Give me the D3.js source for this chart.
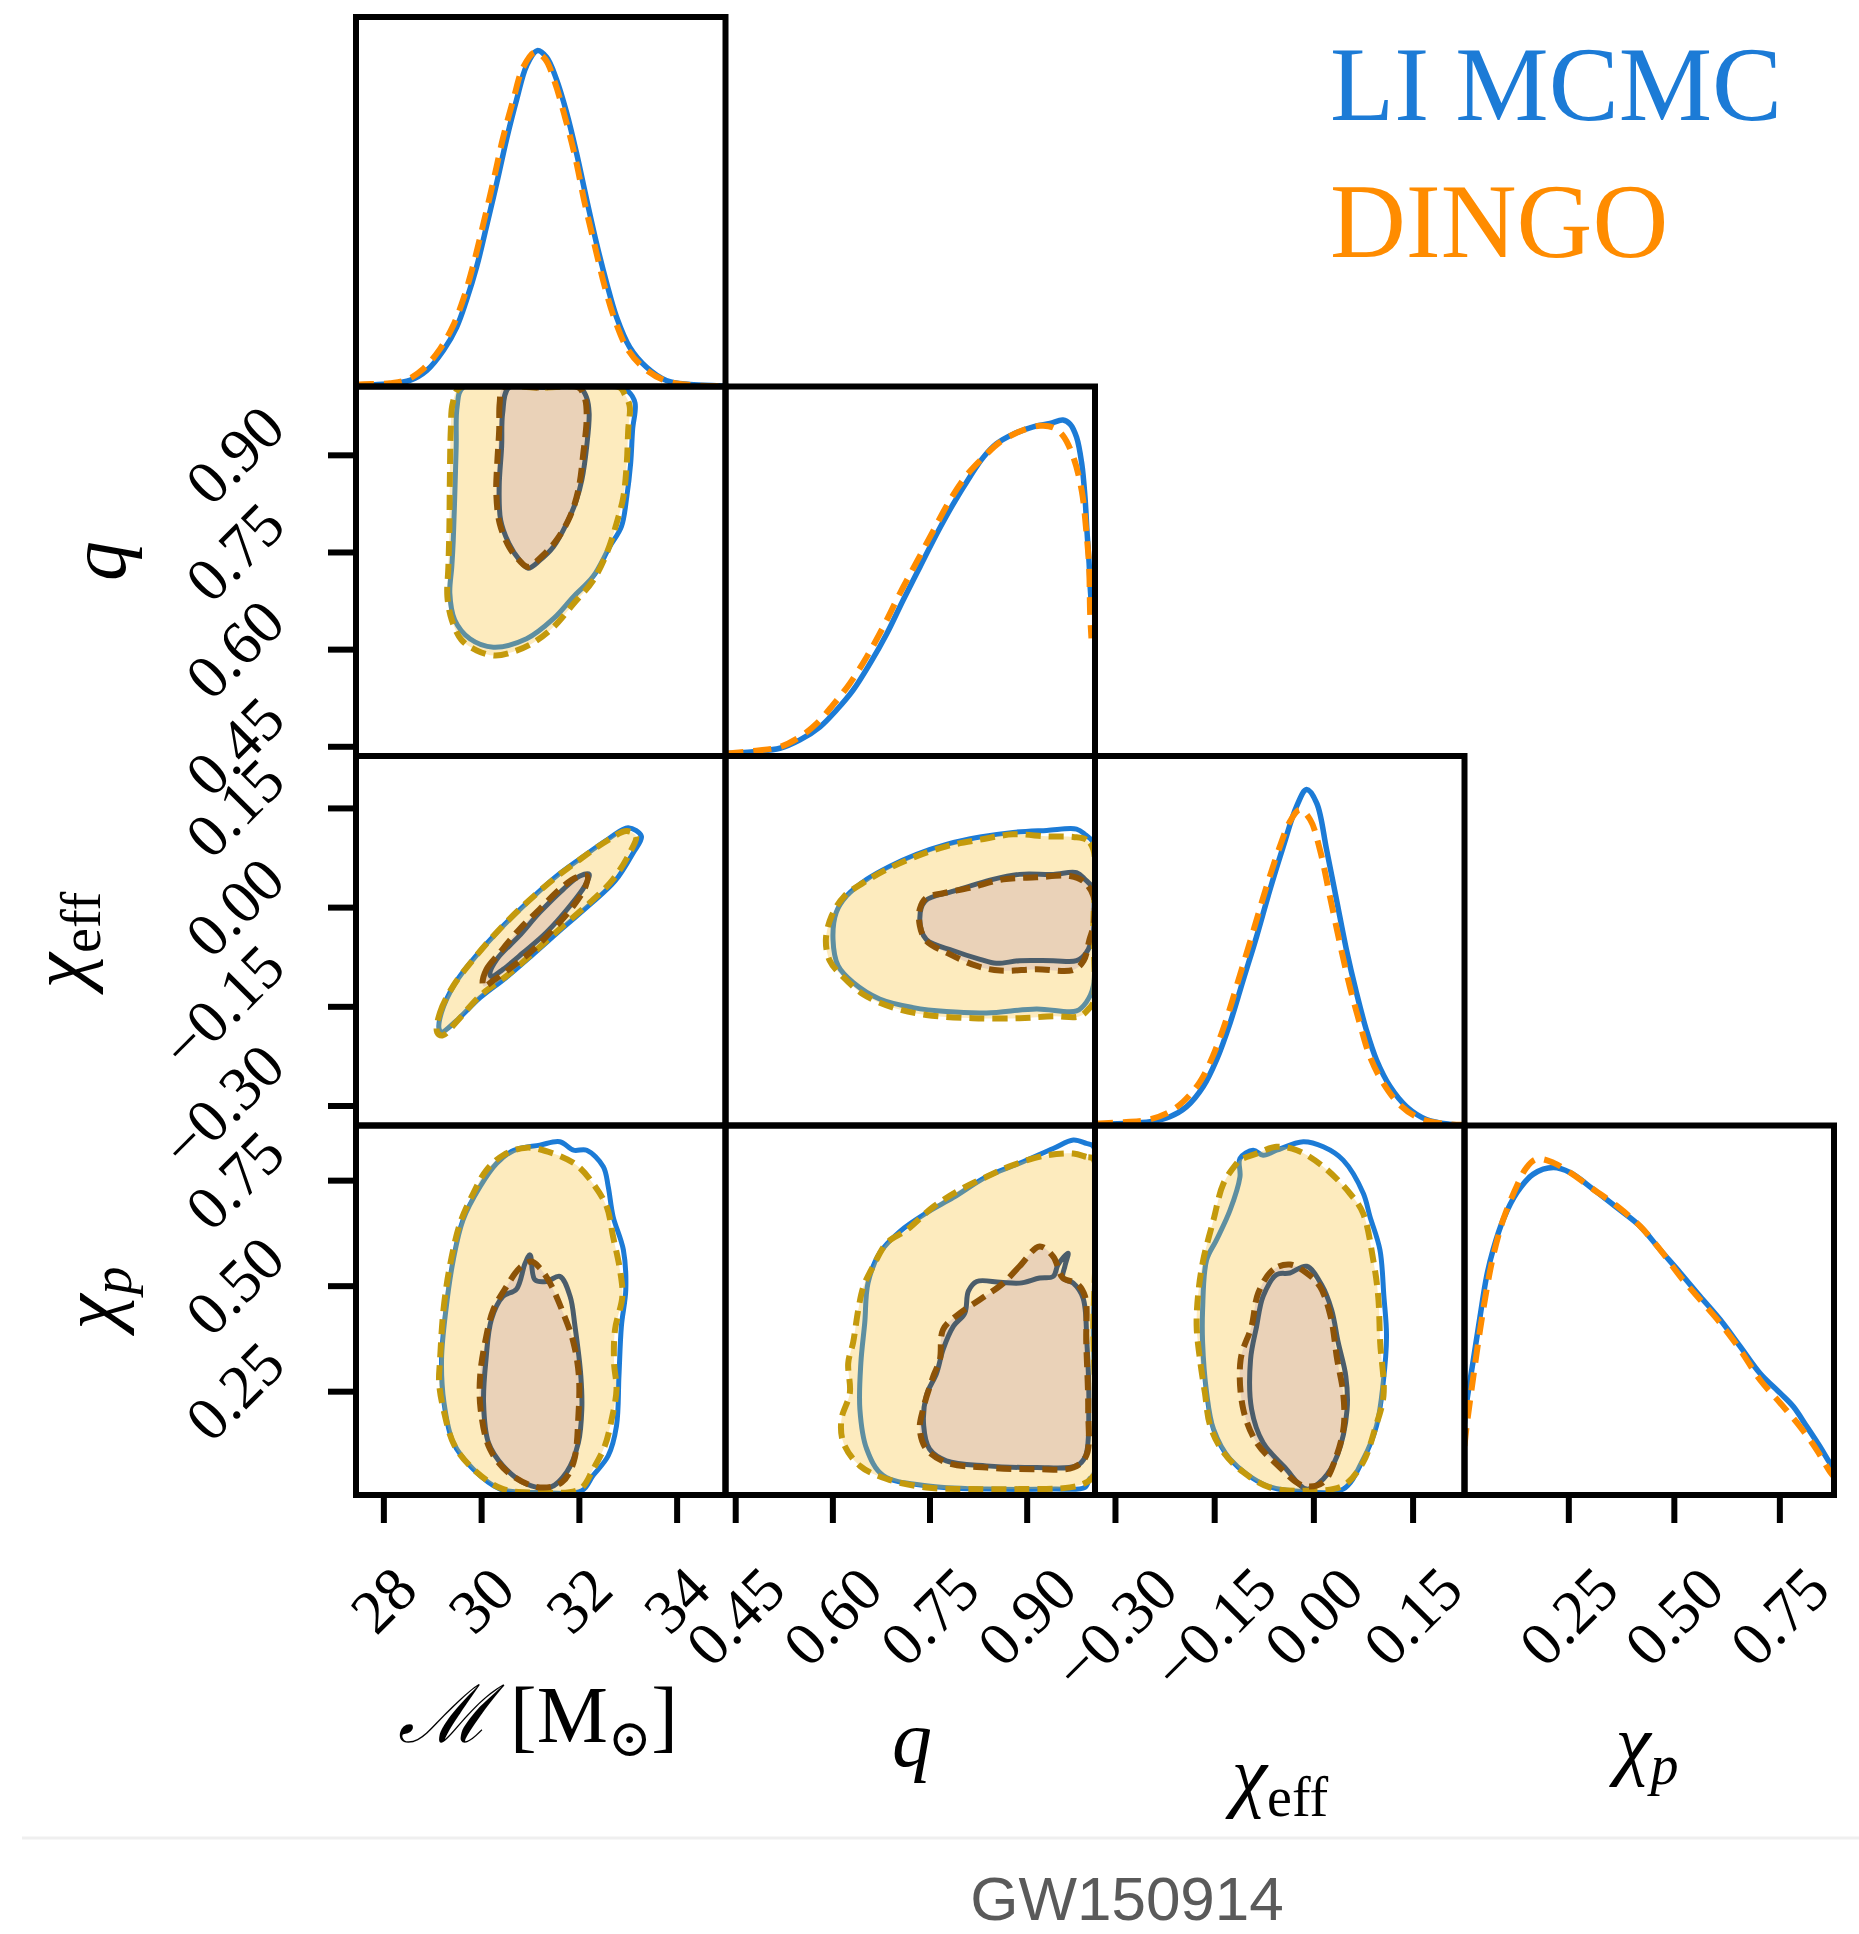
<!DOCTYPE html>
<html>
<head>
<meta charset="utf-8">
<script src="https://cdn.jsdelivr.net/npm/d3@7"></script>
<style>
  html, body { margin: 0; padding: 0; background: #ffffff; }
  svg { display: block; }
</style>
</head>
<body>
<svg id="chart" width="1859" height="1934"></svg>
<script>
// ---------------------------------------------------------------
// GW150914 posterior corner plot: LI MCMC vs DINGO
// Parameters: chirp mass, mass ratio q, chi_eff, chi_p
// ---------------------------------------------------------------

// Axis ranges
const mcRange = [27.44, 35.0];
const qRange = [0.435, 1.0055];
const chiEffRange = [-0.3302, 0.2285];
const chiPRange = [0.004, 0.8795];

// Tick values
const mcTicks = [28, 30, 32, 34];
const qTicks = [0.45, 0.60, 0.75, 0.90];
const chiEffTicks = [-0.30, -0.15, 0.00, 0.15];
const chiPTicks = [0.25, 0.50, 0.75];

// Series names
const seriesNames = ["LI MCMC", "DINGO"];

// ---- 1D marginal densities (normalised, [value, density]) ----
const mcDensityMcmc = [[27.44,0.001],[27.52,0.003],[28.14,0.008],[28.54,0.018],[28.89,0.048],[29.23,0.108],[29.50,0.177],[29.70,0.257],[29.91,0.357],[30.11,0.477],[30.32,0.606],[30.52,0.736],[30.73,0.856],[30.93,0.955],[31.15,1.0],[31.34,0.980],[31.54,0.915],[31.75,0.815],[31.95,0.696],[32.16,0.556],[32.36,0.427],[32.57,0.307],[32.77,0.207],[33.04,0.117],[33.38,0.058],[33.79,0.018],[34.27,0.006],[34.88,0.002],[35.0,0.001]];
const mcDensityDingo = [[27.44,0.004],[27.52,0.006],[28.14,0.010],[28.48,0.020],[28.82,0.053],[29.16,0.112],[29.43,0.182],[29.64,0.262],[29.84,0.362],[30.04,0.481],[30.25,0.611],[30.45,0.741],[30.66,0.855],[30.86,0.950],[31.10,0.995],[31.31,0.975],[31.51,0.905],[31.71,0.805],[31.92,0.686],[32.12,0.546],[32.33,0.416],[32.53,0.297],[32.74,0.197],[33.01,0.108],[33.35,0.053],[33.76,0.018],[34.24,0.005],[34.88,0.001],[35.0,0.001]];

const qDensityMcmc = [[0.435,0.006],[0.442,0.008],[0.478,0.013],[0.519,0.023],[0.550,0.048],[0.581,0.087],[0.6065,0.137],[0.632,0.196],[0.658,0.275],[0.684,0.364],[0.709,0.463],[0.735,0.562],[0.761,0.661],[0.7865,0.750],[0.812,0.830],[0.833,0.889],[0.853,0.929],[0.879,0.958],[0.910,0.980],[0.936,0.990],[0.956,1.0],[0.967,0.988],[0.977,0.949],[0.985,0.871],[0.990,0.772],[0.993,0.673],[0.9964,0.574],[0.998,0.505],[1.0,0.45]];
const qDensityDingo = [[0.435,0.006],[0.442,0.008],[0.478,0.015],[0.519,0.027],[0.550,0.057],[0.576,0.097],[0.601,0.152],[0.627,0.216],[0.653,0.295],[0.6785,0.384],[0.704,0.483],[0.730,0.577],[0.756,0.671],[0.781,0.760],[0.807,0.835],[0.833,0.889],[0.8585,0.934],[0.889,0.966],[0.920,0.983],[0.941,0.978],[0.956,0.954],[0.972,0.890],[0.985,0.790],[0.992,0.671],[0.9964,0.562],[0.998,0.424],[1.0,0.35]];

const chiEffDensityMcmc = [[-0.3302,0.003],[-0.3226,0.004],[-0.287,0.006],[-0.247,0.011],[-0.217,0.026],[-0.1916,0.056],[-0.1665,0.116],[-0.1463,0.196],[-0.126,0.305],[-0.106,0.434],[-0.0858,0.563],[-0.0657,0.702],[-0.0455,0.831],[-0.0254,0.950],[-0.0102,1.0],[0.005,0.960],[0.020,0.821],[0.035,0.672],[0.050,0.523],[0.0653,0.394],[0.080,0.285],[0.0955,0.195],[0.116,0.116],[0.141,0.056],[0.171,0.018],[0.206,0.004],[0.2285,0.002]];
const chiEffDensityDingo = [[-0.3302,0.005],[-0.3226,0.006],[-0.287,0.010],[-0.252,0.016],[-0.222,0.036],[-0.1967,0.071],[-0.1715,0.130],[-0.1513,0.210],[-0.131,0.319],[-0.111,0.448],[-0.091,0.578],[-0.0707,0.712],[-0.0506,0.831],[-0.0355,0.905],[-0.0204,0.940],[-0.005,0.911],[0.0099,0.821],[0.025,0.682],[0.040,0.543],[0.055,0.414],[0.070,0.305],[0.0855,0.205],[0.1056,0.126],[0.131,0.061],[0.161,0.021],[0.201,0.004],[0.2285,0.002]];

const chiPDensityMcmc = [[0.004,0.22],[0.009,0.281],[0.025,0.413],[0.041,0.546],[0.0565,0.668],[0.072,0.750],[0.096,0.842],[0.128,0.923],[0.167,0.980],[0.2145,1.0],[0.254,0.985],[0.309,0.934],[0.365,0.878],[0.420,0.821],[0.467,0.750],[0.515,0.679],[0.562,0.607],[0.6095,0.536],[0.657,0.454],[0.704,0.372],[0.752,0.311],[0.783,0.270],[0.815,0.209],[0.846,0.148],[0.870,0.097],[0.88,0.08]];
const chiPDensityDingo = [[0.004,0.15],[0.009,0.209],[0.025,0.362],[0.041,0.505],[0.0565,0.628],[0.072,0.730],[0.096,0.842],[0.128,0.944],[0.151,1.0],[0.175,1.026],[0.2145,1.015],[0.254,0.985],[0.309,0.934],[0.365,0.883],[0.420,0.821],[0.467,0.750],[0.515,0.668],[0.562,0.597],[0.6095,0.526],[0.657,0.444],[0.704,0.352],[0.752,0.281],[0.799,0.209],[0.8385,0.138],[0.870,0.071],[0.88,0.055]];

// ---- 2D credible contours ([x, y] in parameter units) ----
// q vs chirp mass
const qMcMcmcOuter = [[29.63,1.004],[29.51,0.975],[29.49,0.913],[29.46,0.835],[29.43,0.768],[29.40,0.727],[29.36,0.686],[29.46,0.645],[29.77,0.616],[30.25,0.603],[30.93,0.616],[31.48,0.647],[31.89,0.681],[32.29,0.712],[32.63,0.758],[32.87,0.789],[32.98,0.835],[33.06,0.887],[33.10,0.939],[33.15,0.980],[33.01,0.998],[32.84,1.004],[31.2,1.004]];
const qMcMcmcInner = [[30.57,1.004],[30.44,0.964],[30.42,0.913],[30.37,0.851],[30.40,0.799],[30.57,0.763],[30.79,0.737],[30.96,0.725],[31.20,0.737],[31.48,0.758],[31.75,0.794],[31.95,0.830],[32.06,0.861],[32.16,0.913],[32.21,0.964],[32.16,0.988],[32.02,1.004],[31.3,1.004]];
const qMcDingoOuter = [[29.57,1.004],[29.42,0.980],[29.38,0.939],[29.36,0.861],[29.35,0.784],[29.33,0.727],[29.31,0.681],[29.40,0.645],[29.60,0.614],[29.91,0.598],[30.28,0.590],[30.66,0.596],[31.07,0.610],[31.48,0.634],[31.89,0.670],[32.29,0.706],[32.57,0.748],[32.77,0.794],[32.91,0.835],[32.98,0.887],[33.01,0.939],[33.04,0.975],[32.94,0.993],[32.84,1.004],[31.2,1.004]];
const qMcDingoInner = [[30.45,1.004],[30.38,0.980],[30.37,0.939],[30.33,0.887],[30.31,0.841],[30.38,0.794],[30.57,0.758],[30.78,0.737],[30.96,0.727],[31.24,0.743],[31.54,0.768],[31.82,0.805],[31.99,0.846],[32.09,0.902],[32.16,0.959],[32.12,0.988],[31.99,1.004],[31.2,1.004]];

// chi_eff vs chirp mass
const ceMcMcmcOuter = [[29.14,-0.184],[29.19,-0.159],[29.46,-0.116],[29.87,-0.076],[30.35,-0.036],[30.90,0.004],[31.51,0.045],[32.06,0.075],[32.60,0.103],[33.01,0.120],[33.28,0.107],[33.11,0.082],[32.74,0.0395],[32.23,0.004],[31.68,-0.031],[31.07,-0.071],[30.52,-0.106],[29.98,-0.137],[29.49,-0.172],[29.19,-0.189]];
const ceMcMcmcInner = [[30.18,-0.101],[30.32,-0.079],[30.78,-0.0435],[31.20,-0.008],[31.68,0.027],[32.02,0.047],[32.21,0.0495],[32.12,0.032],[31.82,0.002],[31.34,-0.038],[30.86,-0.069],[30.45,-0.094],[30.21,-0.105]];
const ceMcDingoOuter = [[29.10,-0.189],[29.16,-0.159],[29.43,-0.119],[29.84,-0.079],[30.32,-0.038],[30.86,0.002],[31.48,0.042],[32.02,0.072],[32.57,0.100],[32.98,0.115],[33.17,0.107],[33.04,0.082],[32.70,0.042],[32.23,0.007],[31.68,-0.028],[31.07,-0.069],[30.52,-0.104],[29.98,-0.134],[29.49,-0.174],[29.21,-0.194]];
const ceMcDingoInner = [[30.03,-0.116],[30.11,-0.094],[30.38,-0.069],[30.79,-0.033],[31.20,-0.003],[31.61,0.027],[31.95,0.045],[32.17,0.047],[32.14,0.032],[31.89,0.002],[31.48,-0.033],[31.07,-0.064],[30.66,-0.089],[30.25,-0.111],[30.06,-0.120]];

// chi_eff vs q
const ceQMcmcOuter = [[1.003,0.097],[0.990,0.110],[0.977,0.118],[0.931,0.116],[0.879,0.113],[0.828,0.106],[0.776,0.095],[0.730,0.080],[0.689,0.062],[0.653,0.042],[0.622,0.017],[0.606,-0.008],[0.601,-0.049],[0.609,-0.089],[0.632,-0.114],[0.673,-0.139],[0.725,-0.152],[0.776,-0.158],[0.838,-0.160],[0.915,-0.154],[0.977,-0.157],[0.992,-0.144],[1.003,-0.119],[1.003,-0.01]];
const ceQMcmcInner = [[1.003,0.027],[0.990,0.042],[0.977,0.052],[0.941,0.0495],[0.889,0.0495],[0.848,0.042],[0.787,0.024],[0.743,0.009],[0.735,-0.018],[0.745,-0.049],[0.787,-0.066],[0.828,-0.079],[0.853,-0.085],[0.889,-0.081],[0.941,-0.081],[0.977,-0.081],[0.992,-0.069],[1.003,-0.038]];
const ceQDingoOuter = [[1.003,0.087],[0.992,0.102],[0.972,0.106],[0.931,0.107],[0.879,0.110],[0.828,0.102],[0.776,0.092],[0.725,0.075],[0.684,0.057],[0.648,0.037],[0.619,0.017],[0.599,-0.013],[0.590,-0.049],[0.596,-0.081],[0.617,-0.106],[0.648,-0.132],[0.694,-0.152],[0.745,-0.163],[0.817,-0.168],[0.889,-0.168],[0.941,-0.165],[0.982,-0.165],[0.9974,-0.152],[1.003,-0.144],[1.003,-0.03]];
const ceQDingoInner = [[1.003,0.017],[0.987,0.0395],[0.967,0.047],[0.915,0.045],[0.864,0.042],[0.812,0.029],[0.771,0.021],[0.745,0.014],[0.735,-0.003],[0.735,-0.028],[0.745,-0.051],[0.781,-0.071],[0.823,-0.089],[0.859,-0.096],[0.915,-0.094],[0.972,-0.095],[0.988,-0.081],[0.997,-0.049],[1.003,-0.028]];

// chi_p vs chirp mass
const cpMcMcmcOuter = [[29.19,0.325],[29.28,0.443],[29.43,0.561],[29.63,0.656],[29.98,0.735],[30.32,0.790],[30.66,0.820],[31.20,0.833],[31.61,0.841],[31.89,0.821],[32.16,0.821],[32.50,0.782],[32.60,0.735],[32.70,0.664],[32.91,0.585],[32.96,0.491],[32.87,0.404],[32.82,0.286],[32.77,0.168],[32.60,0.097],[32.29,0.050],[32.06,0.014],[31.20,0.010],[30.39,0.018],[29.84,0.065],[29.43,0.128],[29.24,0.223]];
const cpMcMcmcInner = [[31.00,0.573],[31.10,0.514],[31.34,0.510],[31.61,0.522],[31.82,0.475],[31.92,0.404],[32.04,0.286],[32.06,0.207],[31.99,0.128],[31.75,0.058],[31.41,0.022],[30.93,0.030],[30.45,0.073],[30.15,0.128],[30.05,0.223],[30.10,0.325],[30.21,0.420],[30.45,0.475],[30.72,0.491],[30.90,0.553]];
const cpMcDingoOuter = [[29.16,0.325],[29.23,0.443],[29.36,0.546],[29.57,0.648],[29.84,0.719],[30.11,0.774],[30.45,0.809],[30.93,0.827],[31.48,0.813],[31.95,0.786],[32.29,0.742],[32.57,0.687],[32.70,0.616],[32.84,0.538],[32.89,0.475],[32.74,0.396],[32.72,0.317],[32.77,0.254],[32.67,0.183],[32.53,0.120],[32.29,0.065],[32.02,0.018],[31.20,0.010],[30.45,0.018],[29.91,0.058],[29.46,0.120],[29.23,0.207],[29.14,0.270]];
const cpMcDingoInner = [[31.03,0.557],[30.79,0.542],[30.52,0.498],[30.25,0.443],[30.08,0.365],[29.98,0.286],[29.99,0.207],[30.18,0.113],[30.59,0.054],[31.20,0.022],[31.65,0.034],[31.89,0.081],[31.99,0.191],[32.00,0.286],[31.89,0.365],[31.68,0.435],[31.41,0.506],[31.20,0.542]];

// chi_p vs q
const cpQMcmcOuter = [[1.003,0.83],[0.992,0.837],[0.972,0.845],[0.941,0.825],[0.889,0.790],[0.838,0.758],[0.787,0.709],[0.745,0.672],[0.704,0.628],[0.673,0.577],[0.655,0.506],[0.650,0.412],[0.644,0.317],[0.6425,0.207],[0.653,0.113],[0.6785,0.050],[0.745,0.026],[0.838,0.018],[0.941,0.018],[0.990,0.022],[0.997,0.042],[1.003,0.05],[1.003,0.4]];
const cpQMcmcInner = [[0.964,0.577],[0.9485,0.550],[0.941,0.522],[0.920,0.518],[0.889,0.506],[0.859,0.508],[0.823,0.510],[0.810,0.487],[0.8045,0.435],[0.787,0.404],[0.771,0.349],[0.761,0.293],[0.745,0.239],[0.741,0.168],[0.750,0.113],[0.776,0.085],[0.838,0.073],[0.915,0.069],[0.977,0.073],[0.991,0.097],[0.996,0.207],[0.993,0.365],[0.987,0.471],[0.972,0.506],[0.956,0.518],[0.959,0.546]];
const cpQDingoOuter = [[1.003,0.80],[0.992,0.805],[0.972,0.813],[0.931,0.809],[0.879,0.786],[0.838,0.758],[0.797,0.727],[0.756,0.687],[0.715,0.632],[0.684,0.601],[0.663,0.546],[0.648,0.498],[0.640,0.443],[0.632,0.365],[0.6245,0.317],[0.627,0.246],[0.614,0.183],[0.617,0.128],[0.6425,0.073],[0.684,0.042],[0.745,0.022],[0.812,0.018],[0.889,0.018],[0.967,0.022],[0.992,0.034],[1.003,0.050],[1.003,0.4]];
const cpQDingoInner = [[0.920,0.593],[0.889,0.546],[0.864,0.506],[0.828,0.467],[0.797,0.435],[0.771,0.396],[0.766,0.325],[0.756,0.286],[0.740,0.207],[0.735,0.160],[0.745,0.113],[0.776,0.081],[0.838,0.069],[0.915,0.065],[0.972,0.069],[0.992,0.097],[0.995,0.207],[0.992,0.365],[0.990,0.475],[0.977,0.506],[0.956,0.518],[0.941,0.569]];

// chi_p vs chi_eff
const cpCeMcmcOuter = [[-0.111,0.8015],[-0.091,0.821],[-0.076,0.809],[-0.0556,0.821],[-0.0153,0.841],[0.015,0.829],[0.045,0.7975],[0.0754,0.719],[0.0855,0.664],[0.1006,0.585],[0.1066,0.475],[0.1106,0.380],[0.1056,0.270],[0.0955,0.168],[0.0754,0.089],[0.045,0.018],[-0.0153,0.012],[-0.0707,0.026],[-0.126,0.089],[-0.151,0.160],[-0.1614,0.246],[-0.1675,0.365],[-0.1675,0.443],[-0.1614,0.561],[-0.1463,0.609],[-0.126,0.679],[-0.111,0.758]];
const cpCeMcmcInner = [[-0.0102,0.546],[-0.0355,0.530],[-0.0556,0.526],[-0.076,0.475],[-0.0858,0.404],[-0.095,0.325],[-0.0934,0.207],[-0.076,0.128],[-0.043,0.069],[-0.0102,0.018],[0.015,0.042],[0.036,0.097],[0.051,0.207],[0.049,0.286],[0.0376,0.365],[0.0275,0.443],[0.0124,0.502]];
const cpCeDingoOuter = [[-0.116,0.790],[-0.136,0.742],[-0.151,0.656],[-0.1665,0.561],[-0.174,0.483],[-0.1765,0.404],[-0.1715,0.325],[-0.164,0.246],[-0.156,0.168],[-0.136,0.105],[-0.106,0.058],[-0.066,0.022],[-0.010,0.014],[0.045,0.026],[0.075,0.081],[0.093,0.160],[0.106,0.239],[0.101,0.365],[0.098,0.475],[0.0905,0.561],[0.075,0.672],[0.055,0.719],[0.015,0.782],[-0.025,0.821],[-0.056,0.829],[-0.086,0.813],[-0.111,0.798]];
const cpCeDingoInner = [[-0.0355,0.550],[-0.0607,0.538],[-0.0833,0.483],[-0.0934,0.404],[-0.110,0.325],[-0.106,0.207],[-0.0858,0.128],[-0.0556,0.077],[-0.0153,0.026],[0.015,0.034],[0.035,0.097],[0.046,0.168],[0.045,0.246],[0.036,0.325],[0.026,0.4275],[0.0099,0.498],[-0.0102,0.530]];

// ---------------------------------------------------------------
// Layout and styles
// ---------------------------------------------------------------
const gridX = 356, gridY = 17, cell = 369.5;
const tickLen = 28, tickGap = 40;
const frameWidth = 6;
const blue = "#1c7bd6", orange = "#ff8c00";
const serif = "'Liberation Serif', 'DejaVu Serif', serif";
const tickFont = 62;

const svg = d3.select("#chart");

const ranges = [mcRange, qRange, chiEffRange, chiPRange];
const tickVals = [mcTicks, qTicks, chiEffTicks, chiPTicks];
const fmts = [d3.format("d"), d3.format(".2f"), d3.format(".2f"), d3.format(".2f")];
const densities = [
  [mcDensityMcmc, mcDensityDingo],
  [qDensityMcmc, qDensityDingo],
  [chiEffDensityMcmc, chiEffDensityDingo],
  [chiPDensityMcmc, chiPDensityDingo]
];

const xs = ranges.map((r, i) => d3.scaleLinear().domain(r).range([gridX + i * cell, gridX + (i + 1) * cell]));
const ys = ranges.map((r, i) => d3.scaleLinear().domain(r).range([gridY + (i + 1) * cell, gridY + i * cell]));

// clip paths, one per panel
const defs = svg.append("defs");
for (let r = 0; r < 4; r++) {
  for (let c = 0; c <= r; c++) {
    defs.append("clipPath").attr("id", `clip-${r}-${c}`)
      .append("rect")
      .attr("x", gridX + c * cell).attr("y", gridY + r * cell)
      .attr("width", cell).attr("height", cell);
  }
}

// ---- 1D marginals on the diagonal ----
densities.forEach((pair, i) => {
  const maxD = d3.max(pair.flat(), d => d[1]);
  const yD = d3.scaleLinear().domain([0, 1.1 * maxD]).range([gridY + (i + 1) * cell, gridY + i * cell]);
  const line = d3.line().x(d => xs[i](d[0])).y(d => yD(d[1])).curve(d3.curveCatmullRom.alpha(0.5));
  const g = svg.append("g").attr("clip-path", `url(#clip-${i}-${i})`);
  g.append("path").attr("d", line(pair[0]))
    .attr("fill", "none").attr("stroke", blue).attr("stroke-width", 5.5)
    .attr("stroke-linejoin", "round").attr("stroke-linecap", "round");
  g.append("path").attr("d", line(pair[1]))
    .attr("fill", "none").attr("stroke", orange).attr("stroke-width", 6)
    .attr("stroke-dasharray", "18,10");
});

// ---- 2D contour panels ----
const panels = [
  { r: 1, c: 0, mcmcOuter: qMcMcmcOuter, mcmcInner: qMcMcmcInner, dingoOuter: qMcDingoOuter, dingoInner: qMcDingoInner },
  { r: 2, c: 0, mcmcOuter: ceMcMcmcOuter, mcmcInner: ceMcMcmcInner, dingoOuter: ceMcDingoOuter, dingoInner: ceMcDingoInner },
  { r: 2, c: 1, mcmcOuter: ceQMcmcOuter, mcmcInner: ceQMcmcInner, dingoOuter: ceQDingoOuter, dingoInner: ceQDingoInner },
  { r: 3, c: 0, mcmcOuter: cpMcMcmcOuter, mcmcInner: cpMcMcmcInner, dingoOuter: cpMcDingoOuter, dingoInner: cpMcDingoInner },
  { r: 3, c: 1, mcmcOuter: cpQMcmcOuter, mcmcInner: cpQMcmcInner, dingoOuter: cpQDingoOuter, dingoInner: cpQDingoInner },
  { r: 3, c: 2, mcmcOuter: cpCeMcmcOuter, mcmcInner: cpCeMcmcInner, dingoOuter: cpCeDingoOuter, dingoInner: cpCeDingoInner }
];

panels.forEach(p => {
  const line = d3.line().x(d => xs[p.c](d[0])).y(d => ys[p.r](d[1]))
    .curve(d3.curveCatmullRomClosed.alpha(0.5));
  const g = svg.append("g").attr("clip-path", `url(#clip-${p.r}-${p.c})`);
  g.append("path").attr("d", line(p.mcmcOuter))
    .attr("fill", "none").attr("stroke", blue).attr("stroke-width", 5).attr("stroke-linejoin", "round");
  g.append("path").attr("d", line(p.dingoOuter)).attr("fill", "rgba(247,190,40,0.30)");
  g.append("path").attr("d", line(p.dingoInner)).attr("fill", "rgba(215,185,177,0.5)");
  g.append("path").attr("d", line(p.mcmcInner))
    .attr("fill", "none").attr("stroke", "#4b5d6b").attr("stroke-width", 5).attr("stroke-linejoin", "round");
  g.append("path").attr("d", line(p.dingoOuter))
    .attr("fill", "none").attr("stroke", "#c49a0c").attr("stroke-width", 6).attr("stroke-dasharray", "15,8");
  g.append("path").attr("d", line(p.dingoInner))
    .attr("fill", "none").attr("stroke", "#8d5307").attr("stroke-width", 6).attr("stroke-dasharray", "15,8");
});

// ---- panel frames ----
for (let r = 0; r < 4; r++) {
  for (let c = 0; c <= r; c++) {
    svg.append("rect")
      .attr("x", gridX + c * cell).attr("y", gridY + r * cell)
      .attr("width", cell).attr("height", cell)
      .attr("fill", "none").attr("stroke", "#000").attr("stroke-width", frameWidth);
  }
}

// ---- tick marks ----
function styleAxis(g) {
  g.select(".domain").remove();
  g.selectAll(".tick line").attr("stroke", "#000").attr("stroke-width", 6);
}
for (let r = 1; r < 4; r++) {
  svg.append("g").attr("transform", `translate(${gridX},0)`)
    .call(d3.axisLeft(ys[r]).tickValues(tickVals[r]).tickSize(tickLen).tickFormat(""))
    .call(styleAxis);
}
const bottomY = gridY + 4 * cell;
for (let c = 0; c < 4; c++) {
  svg.append("g").attr("transform", `translate(0,${bottomY})`)
    .call(d3.axisBottom(xs[c]).tickValues(tickVals[c]).tickSize(tickLen).tickFormat(""))
    .call(styleAxis);
}

// ---- rotated tick labels (45 degrees, box aligned to the tick) ----
function tickLabel(x, y, txt, side) {
  const t = svg.append("text")
    .attr("font-family", serif).attr("font-size", tickFont)
    .attr("text-anchor", "middle").attr("dy", 0.34 * tickFont)
    .attr("fill", "#000").text(txt);
  const L = t.node().getComputedTextLength();
  const s = (L + 0.68 * tickFont) / Math.SQRT2;
  let cx, cy;
  if (side === "left") { cx = x - s / 2; cy = y; }
  else { cx = x; cy = y + s / 2; }
  t.attr("transform", `translate(${cx},${cy}) rotate(-45)`);
}
for (let r = 1; r < 4; r++) {
  tickVals[r].forEach(v => tickLabel(gridX - tickLen - tickGap, ys[r](v), fmts[r](v), "left"));
}
for (let c = 0; c < 4; c++) {
  tickVals[c].forEach(v => tickLabel(xs[c](v), bottomY + tickLen + tickGap, fmts[c](v), "bottom"));
}

// ---- axis titles ----
const labelFont = 80;
function title(x, y, rotate, build) {
  const t = svg.append("text")
    .attr("font-family", serif).attr("font-size", labelFont)
    .attr("text-anchor", "middle").attr("fill", "#000")
    .attr("transform", `translate(${x},${y})` + (rotate ? " rotate(-90)" : ""));
  build(t);
}
// bottom titles
title(538, 1742, false, t => {
  t.append("tspan").attr("font-style", "italic").text("ℳ");
  t.append("tspan").text(" [M");
  t.append("tspan").attr("font-size", 52).attr("dy", 14).text("⊙");
  t.append("tspan").attr("dy", -14).text("]");
});
title(912, 1766, false, t => {
  t.append("tspan").attr("font-style", "italic").text("q");
});
title(1280, 1802, false, t => {
  t.append("tspan").attr("font-style", "italic").text("χ");
  t.append("tspan").attr("font-size", 56).attr("dy", 14).text("eff");
});
title(1647, 1770, false, t => {
  t.append("tspan").attr("font-style", "italic").text("χ");
  t.append("tspan").attr("font-style", "italic").attr("font-size", 56).attr("dy", 14).text("p");
});
// left titles
title(125, 561, true, t => {
  t.append("tspan").attr("font-style", "italic").text("q");
});
title(86, 940, true, t => {
  t.append("tspan").attr("font-style", "italic").text("χ");
  t.append("tspan").attr("font-size", 56).attr("dy", 14).text("eff");
});
title(117, 1298, true, t => {
  t.append("tspan").attr("font-style", "italic").text("χ");
  t.append("tspan").attr("font-style", "italic").attr("font-size", 56).attr("dy", 14).text("p");
});

// ---- legend ----
const legendColors = [blue, orange];
seriesNames.forEach((name, i) => {
  svg.append("text")
    .attr("x", 1330).attr("y", 120 + i * 137)
    .attr("font-family", serif).attr("font-size", 105)
    .attr("fill", legendColors[i]).text(name);
});

// ---- caption ----
svg.append("line").attr("x1", 22).attr("x2", 1859).attr("y1", 1838).attr("y2", 1838)
  .attr("stroke", "#efefef").attr("stroke-width", 3);
svg.append("text")
  .attr("x", 1127).attr("y", 1920)
  .attr("text-anchor", "middle")
  .attr("font-family", "'Liberation Sans', Arial, sans-serif").attr("font-size", 62)
  .attr("fill", "#5a5a5a").text("GW150914");
</script>
</body>
</html>
